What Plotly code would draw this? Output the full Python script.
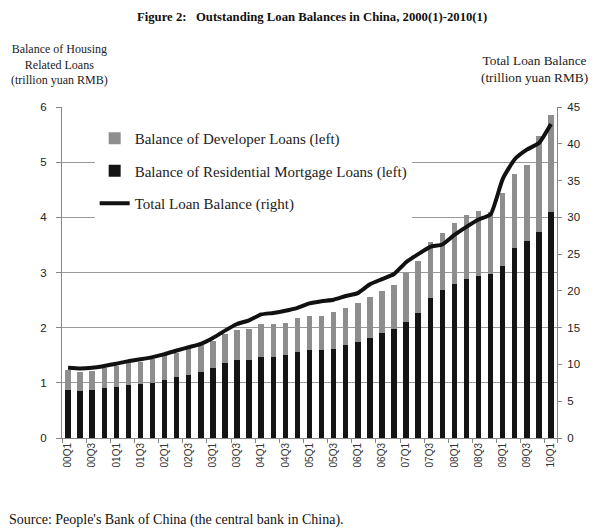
import plotly.graph_objects as go

quarters = [f"{y:02d}Q{q}" for y in range(0, 10) for q in range(1, 5)] + ["10Q1"]

residential = [0.873, 0.855, 0.866, 0.90, 0.93, 0.96, 0.98, 1.005, 1.06, 1.10,
               1.15, 1.19, 1.26, 1.36, 1.405, 1.41, 1.47, 1.47, 1.50, 1.56,
               1.59, 1.59, 1.62, 1.68, 1.74, 1.81, 1.90, 1.975, 2.11, 2.27,
               2.54, 2.69, 2.80, 2.88, 2.94, 2.97, 3.11, 3.44, 3.58, 3.73, 4.10]

developer = [0.36, 0.35, 0.35, 0.37, 0.38, 0.40, 0.40, 0.43, 0.42, 0.44,
             0.47, 0.49, 0.50, 0.53, 0.555, 0.57, 0.59, 0.59, 0.59, 0.62,
             0.62, 0.63, 0.66, 0.67, 0.70, 0.75, 0.77, 0.795, 0.88, 0.94,
             1.01, 1.02, 1.10, 1.16, 1.18, 1.13, 1.33, 1.34, 1.37, 1.74, 1.76]

total_loans = [9.55, 9.45, 9.55, 9.8, 10.1, 10.45, 10.7, 11.0, 11.4, 11.9,
               12.35, 12.8, 13.6, 14.6, 15.5, 16.0, 16.8, 17.0, 17.3, 17.7,
               18.3, 18.6, 18.8, 19.3, 19.7, 20.9, 21.6, 22.3, 23.9, 25.0,
               26.0, 26.3, 27.6, 28.7, 29.7, 30.4, 35.2, 37.9, 39.2, 40.1, 42.7]

tick_labels = quarters[::2]
left_ticks = [0, 1, 2, 3, 4, 5, 6]
right_ticks = [0, 5, 10, 15, 20, 25, 30, 35, 40, 45]

serif = "Liberation Serif, Times New Roman, serif"
sans = "Liberation Sans, Arial, sans-serif"

# page has an 8px body margin; figure is sized so the plot lands where the reference has it
fig = go.Figure()
fig.add_trace(go.Bar(
    x=quarters, y=residential, name="Balance of Residential Mortgage Loans (left)",
    marker=dict(color="#141414", line=dict(width=0)), legendrank=2, legendgroup="b"))
fig.add_trace(go.Bar(
    x=quarters, y=developer, name="Balance of Developer Loans (left)",
    marker=dict(color="#8e8e8e", line=dict(width=0)), legendrank=1, legendgroup="a"))
fig.add_trace(go.Scatter(
    x=quarters, y=total_loans, name="Total Loan Balance (right)", yaxis="y2",
    mode="lines", line=dict(color="#111111", width=4, shape="spline", smoothing=0.5),
    legendrank=3, legendgroup="c"))

fig.update_layout(
    width=588, height=520,
    margin=dict(l=54, r=39, t=99, b=90),
    paper_bgcolor="white", plot_bgcolor="white",
    barmode="stack", bargap=0.55,
    showlegend=True,
    legend=dict(x=0.066, y=0.955, xanchor="left", yanchor="top",
                bgcolor="white", borderwidth=0,
                font=dict(family=serif, size=15, color="#222"),
                traceorder="grouped", tracegroupgap=10, itemwidth=30),
    xaxis=dict(type="category", categoryorder="array", categoryarray=quarters,
               tickmode="array", tickvals=tick_labels, ticktext=tick_labels,
               tickangle=-90, tickfont=dict(family=sans, size=10, color="#333"),
               showline=True, linecolor="#888", linewidth=1,
               ticks="outside", ticklen=4, tickcolor="#888", tickson="boundaries",
               showgrid=False, range=[-0.5, 40.5]),
    yaxis=dict(range=[0, 6], tickvals=left_ticks, tickfont=dict(family=sans, size=11.5, color="#222"),
               showline=True, linecolor="#888", linewidth=1, ticks="outside", ticklen=5,
               tickcolor="#888", ticklabelstandoff=7,
               showgrid=True, gridcolor="#999", gridwidth=1, zeroline=False),
    yaxis2=dict(range=[0, 45], tickvals=right_ticks, overlaying="y", side="right",
                tickfont=dict(family=sans, size=11.5, color="#222"),
                showline=True, linecolor="#888", linewidth=1, ticks="outside", ticklen=4,
                tickcolor="#888", ticklabelstandoff=3, showgrid=False, zeroline=False),
)


# pixel positions of the reference page -> paper coordinates
def px(xp):
    return (xp - 62) / 495.0


def py(yp):
    return (438 - yp) / 331.0


fig.add_annotation(text="<b>Figure 2:   Outstanding Loan Balances in China, 2000(1)-2010(1)</b>",
                   xref="paper", yref="paper", x=px(312), y=py(17), xanchor="center", yanchor="middle",
                   showarrow=False, font=dict(family=serif, size=12.7, color="#111"))
fig.add_annotation(text="Balance of Housing<br>Related Loans<br>(trillion yuan RMB)",
                   xref="paper", yref="paper", x=px(59), y=py(65), xanchor="center", yanchor="middle",
                   showarrow=False, align="center", font=dict(family=serif, size=12, color="#222"))
fig.add_annotation(text="Total Loan Balance<br>(trillion yuan RMB)",
                   xref="paper", yref="paper", x=px(590), y=py(69), xanchor="right", yanchor="middle",
                   showarrow=False, align="center", font=dict(family=serif, size=13.3, color="#222"))
fig.add_annotation(text="Source: People's Bank of China (the central bank in China).",
                   xref="paper", yref="paper", x=px(7), y=py(520), xanchor="left", yanchor="middle",
                   showarrow=False, font=dict(family=serif, size=14, color="#111"))

fig.write_html("out.html")
